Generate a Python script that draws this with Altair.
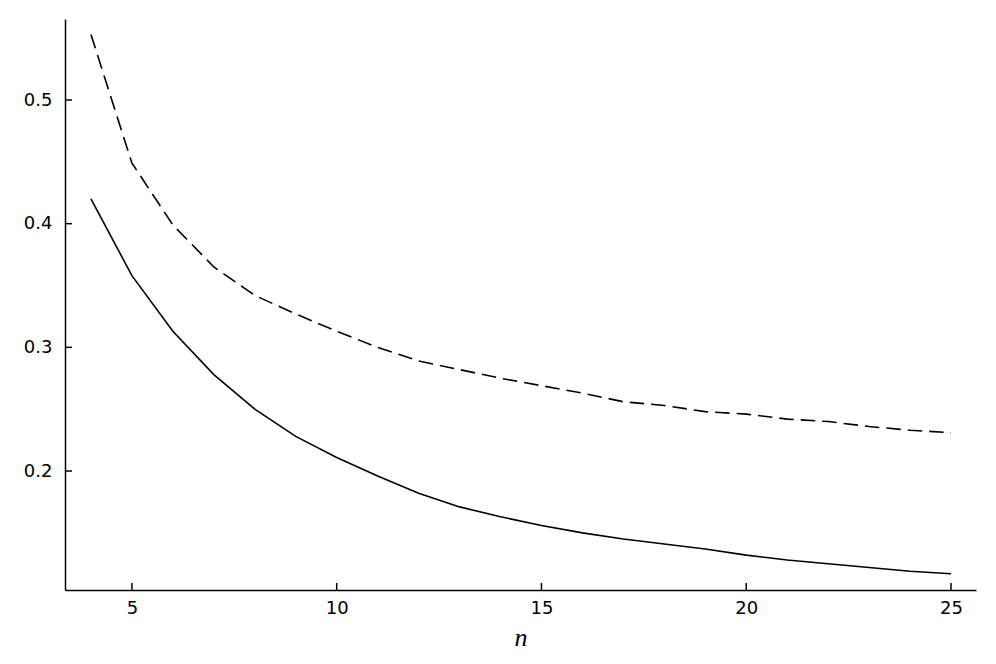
import altair as alt
import pandas as pd

n_values = list(range(4, 26))
solid_values = [0.420, 0.358, 0.313, 0.278, 0.250, 0.228, 0.211, 0.196, 0.182, 0.171,
                0.163, 0.156, 0.150, 0.145, 0.141, 0.137, 0.132, 0.128, 0.125, 0.122,
                0.119, 0.117]
dashed_values = [0.553, 0.449, 0.399, 0.365, 0.342, 0.327, 0.313, 0.300, 0.289, 0.282,
                 0.275, 0.269, 0.263, 0.256, 0.253, 0.248, 0.246, 0.242, 0.240, 0.236,
                 0.233, 0.231]
x_ticks = [5, 10, 15, 20, 25]
y_ticks = [0.2, 0.3, 0.4, 0.5]

W, H = 911, 571
x_dom = [3.366, 25.61]
y_dom = [0.1038, 0.5655]

df = pd.DataFrame({"n": n_values, "solid": solid_values, "dashed": dashed_values})
xt = pd.DataFrame({"t": x_ticks})
yt = pd.DataFrame({"t": y_ticks})

xs = alt.Scale(domain=x_dom, nice=False, zero=False)
ys = alt.Scale(domain=y_dom, nice=False, zero=False)

x_axis = alt.Axis(values=x_ticks, tickSize=0, labelFont="DejaVu Sans", labelFontSize=18,
                  labelColor="black", labelPadding=9, domainColor="black", domainWidth=1.5,
                  grid=False, title="n", titleFont="Liberation Serif", titleFontStyle="italic",
                  titleFontWeight="normal", titleFontSize=26, titleColor="black",
                  titleBaseline="alphabetic", titleY=55)
y_axis = alt.Axis(values=y_ticks, tickSize=0, labelFont="DejaVu Sans", labelFontSize=18,
                  labelColor="black", labelPadding=13, domainColor="black", domainWidth=1.5,
                  grid=False, title=None, format=".1f")

solid = alt.Chart(df).mark_line(color="black", strokeWidth=1.6).encode(
    x=alt.X("n:Q", scale=xs, axis=x_axis),
    y=alt.Y("solid:Q", scale=ys, axis=y_axis),
)
dashed = alt.Chart(df).mark_line(color="black", strokeWidth=1.6, strokeDash=[14.5, 7]).encode(
    x=alt.X("n:Q", scale=xs),
    y=alt.Y("dashed:Q", scale=ys),
)
xtick_marks = alt.Chart(xt).mark_rule(color="black", strokeWidth=1.5).encode(
    x=alt.X("t:Q", scale=xs),
    y=alt.value(H),
    y2=alt.value(H - 7),
)
ytick_marks = alt.Chart(yt).mark_rule(color="black", strokeWidth=1.5).encode(
    y=alt.Y("t:Q", scale=ys),
    x=alt.value(0),
    x2=alt.value(7),
)

chart = alt.layer(solid, dashed, xtick_marks, ytick_marks).properties(
    width=W, height=H,
    background="white",
    autosize=alt.AutoSizeParams(type="none"),
    padding={"left": 57, "top": 11, "right": 12, "bottom": 66},
).configure_view(stroke=None, strokeWidth=0)

chart.save("out.html", embed_options={"renderer": "svg", "actions": False})
